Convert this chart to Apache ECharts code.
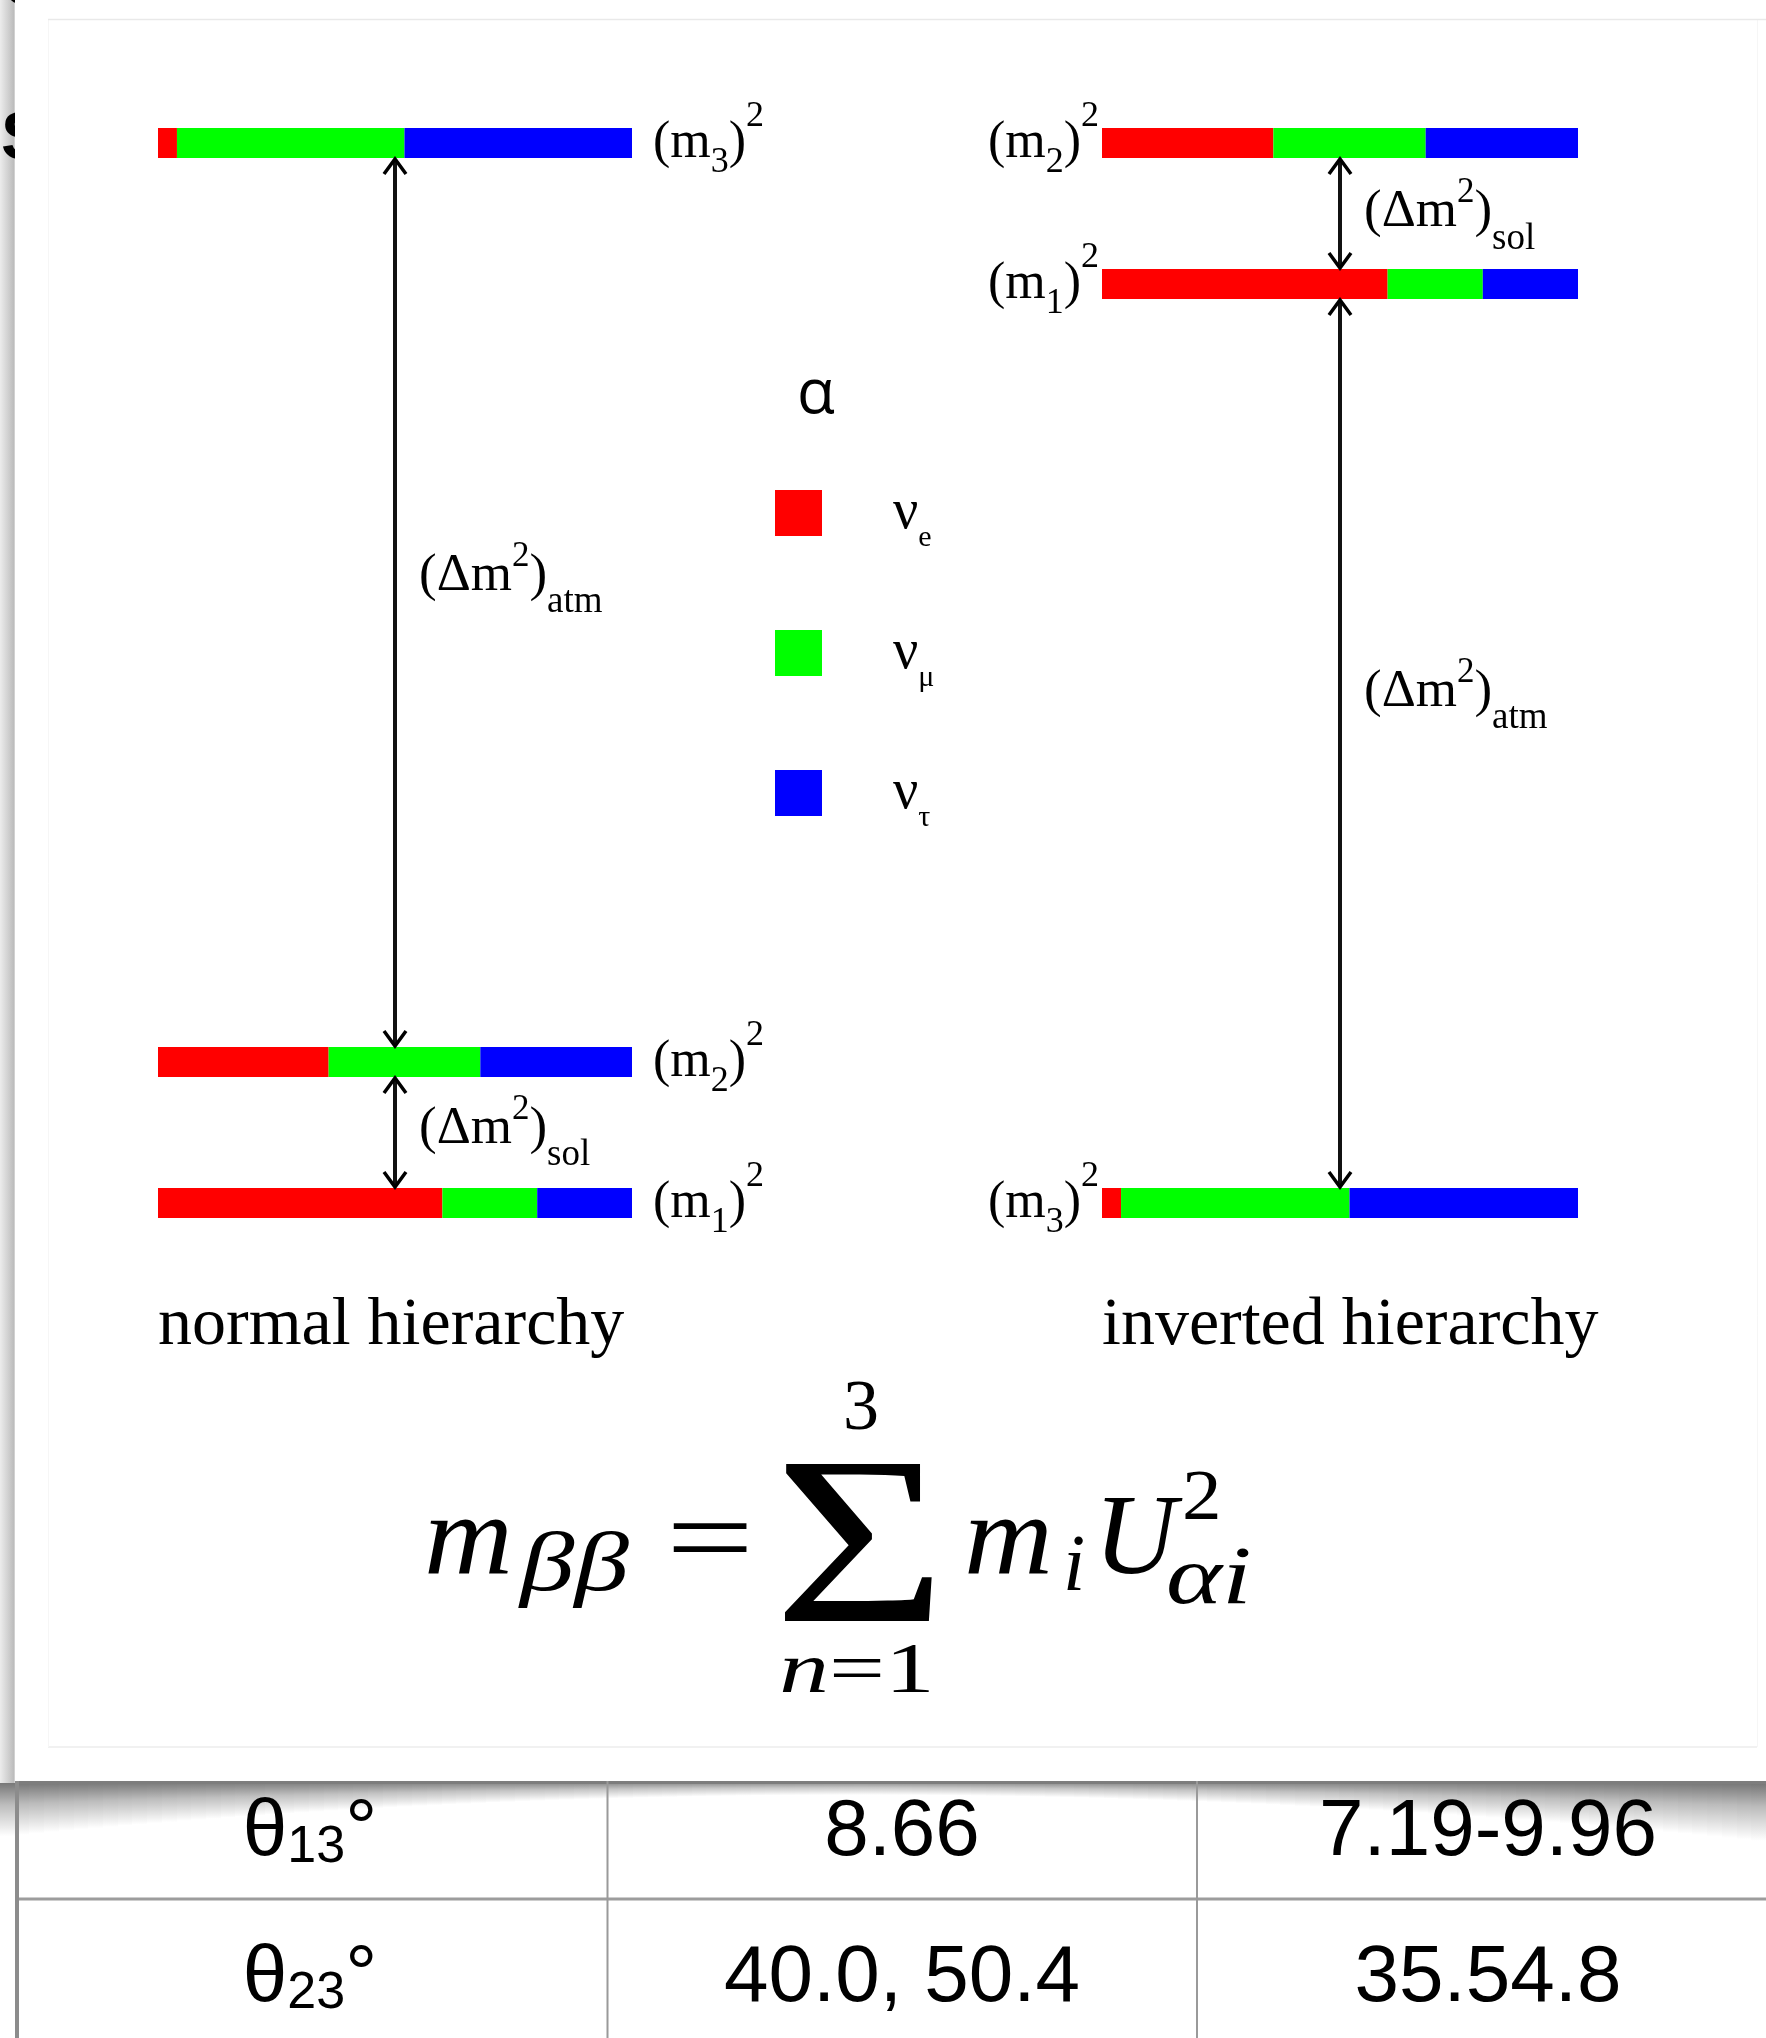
<!DOCTYPE html>
<html><head><meta charset="utf-8">
<script src="https://cdn.jsdelivr.net/npm/echarts@6/dist/echarts.min.js"></script>
<style>html,body{margin:0;padding:0;background:#fff}#c{width:1766px;height:2038px}</style>
</head><body><div id="c"></div><script>
// ---------------- data ----------------
const flavours = ['νe', 'νμ', 'ντ'];
const flavourColors = ['#ff0000', '#00ff00', '#0000ff'];
const massStates = ['1', '2', '3'];
// mass-squared levels (arbitrary units, solar splitting = 1)
const levelsNormal = [0, 1, 7.52];
const levelsInverted = [6.52, 7.52, 0];
// flavour content of each mass state (m1, m2, m3)
const fracE = [0.60, 0.36, 0.04];
const fracMu = [0.20, 0.32, 0.48];
const fracTau = [0.20, 0.32, 0.48];
// splittings: [upper state, lower state, kind index]
const splitKinds = ['sol', 'atm'];
const splitNormal = [[3, 2, 1], [2, 1, 0]];
const splitInverted = [[2, 1, 0], [1, 3, 1]];
const panelTitles = ['normal hierarchy', 'inverted hierarchy'];
// table fragment
const tableRowSub = ['13', '23'];
const tableBestFit = ['8.66', '40.0, 50.4'];
const tableRange = ['7.19-9.96', '35.54.8'];

// ---------------- layout ----------------
const W = 1766, H = 2038;
const BAR_H = 30;
const LABEL_FRAC = [{ sol: 0.47, atm: 0.47 }, { sol: 0.49, atm: 0.442 }];
const SERIF = 'Liberation Serif';
const SANS = 'Liberation Sans';
const fracs = [fracE, fracMu, fracTau];

const chart = echarts.init(document.getElementById('c'), null, { renderer: 'canvas', width: W, height: H });

function barData(levels, f) {
  return massStates.map((s, i) => {
    let start = 0;
    for (let k = 0; k < f; k++) start += fracs[k][i];
    return [start, start + fracs[f][i], levels[i]];
  });
}
function barRender(params, api) {
  const y = api.value(2);
  const a = api.coord([api.value(0), y]);
  const b = api.coord([api.value(1), y]);
  return { type: 'rect', shape: { x: a[0], y: a[1] - BAR_H / 2, width: b[0] - a[0], height: BAR_H },
    style: { fill: api.visual('color') } };
}
function tok(size, extra) {
  return Object.assign({ fontFamily: SERIF, fontSize: size, lineHeight: 60, fill: '#000', color: '#000' }, extra || {});
}
const levelRich = {
  a: tok(52),
  s: tok(36, { padding: [39, 0, 0, 0] }),
  p: tok(36, { padding: [0, 0, 53, 0] })
};
const deltaRich = {
  a: tok(53),
  s: tok(37, { padding: [53, 0, 0, 0] }),
  p: tok(35, { padding: [0, 0, 39, 0] })
};
function levelLabelRender(side) {
  return function (params, api) {
    const p = api.coord([api.value(0), api.value(1)]);
    const k = massStates[api.value(2)];
    const right = side === 'right';
    return { type: 'text', x: right ? p[0] + 21 : p[0] - 3, y: p[1],
      style: { text: '{a|(m}{s|' + k + '}{a|)}{p|2}', rich: levelRich,
        align: right ? 'left' : 'right', textAlign: right ? 'left' : 'right',
        verticalAlign: 'middle', textVerticalAlign: 'middle', fill: '#000' } };
  };
}
function arrowRender(panel) {
  return function (params, api) {
    const x = api.value(0);
    const top = api.coord([x, api.value(1)]);
    const bot = api.coord([x, api.value(2)]);
    const cx = top[0], y1 = top[1] + BAR_H / 2, y2 = bot[1] - BAR_H / 2;
    const kind = splitKinds[api.value(3)];
    const ly = y1 + LABEL_FRAC[panel][kind] * (y2 - y1);
    const st = { stroke: '#000', lineWidth: 3.5, fill: 'none' };
    return { type: 'group', children: [
      { type: 'line', shape: { x1: cx, y1: y1 + 2, x2: cx, y2: y2 - 2 }, style: { stroke: '#111', lineWidth: 4 } },
      { type: 'polyline', shape: { points: [[cx - 11, y1 + 16], [cx, y1 + 1], [cx + 11, y1 + 16]] }, style: st },
      { type: 'polyline', shape: { points: [[cx - 11, y2 - 16], [cx, y2 - 1], [cx + 11, y2 - 16]] }, style: st },
      { type: 'text', x: cx + 24, y: ly, style: { text: '{a|(Δm}{p|2}{a|)}{s|' + kind + '}', rich: deltaRich,
        align: 'left', textAlign: 'left', verticalAlign: 'middle', textVerticalAlign: 'middle', fill: '#000' } }
    ] };
  };
}

const panels = [
  { levels: levelsNormal, splits: splitNormal, labelSide: 'right' },
  { levels: levelsInverted, splits: splitInverted, labelSide: 'left' }
];
const series = [];
panels.forEach((pn, p) => {
  flavours.forEach((name, f) => {
    series.push({ type: 'custom', name: name, xAxisIndex: p, yAxisIndex: p, itemStyle: { color: flavourColors[f] },
      renderItem: barRender, data: barData(pn.levels, f), silent: true, z: 2 });
  });
  series.push({ type: 'custom', name: 'levels' + p, xAxisIndex: p, yAxisIndex: p, renderItem: levelLabelRender(pn.labelSide),
    data: massStates.map((s, i) => [pn.labelSide === 'right' ? 1 : 0, pn.levels[i], i]), silent: true, z: 3 });
  series.push({ type: 'custom', name: 'splits' + p, xAxisIndex: p, yAxisIndex: p, renderItem: arrowRender(p),
    data: pn.splits.map(s => [0.5, pn.levels[s[0] - 1], pn.levels[s[1] - 1], s[2]]), silent: true, z: 4 });
});

// ---------------- decorations, formula, table (graphic) ----------------
function txt(text, x, y, size, opts) {
  opts = opts || {};
  const el = { type: 'text', x: x, y: y, silent: true, z: opts.z || 10,
    style: Object.assign({ text: text, fontFamily: opts.family || SERIF, fontSize: size, fontStyle: opts.italic ? 'italic' : 'normal',
      fontWeight: opts.bold ? 'bold' : 'normal',
      fill: '#000', align: opts.align || 'left', textAlign: opts.align || 'left', verticalAlign: 'middle', textVerticalAlign: 'middle' }, opts.style || {}) };
  if (opts.sx) el.scaleX = opts.sx;
  return el;
}
const graphics = [];
// page frame
graphics.push({ type: 'rect', shape: { x: 0, y: 0, width: 15, height: 1783 }, silent: true, z: 1,
  style: { fill: new echarts.graphic.LinearGradient(0, 0, 1, 0, [{ offset: 0, color: '#ececec' }, { offset: 0.6, color: '#cdcdcd' }, { offset: 0.92, color: '#bcbcbc' }, { offset: 1, color: '#e0e0e0' }]) } });
graphics.push(txt('S', 1, 140, 68, { family: SANS, bold: true, z: 2 }));
graphics.push(txt('C', 1, -14, 68, { family: SANS, bold: true, z: 2 }));
graphics.push({ type: 'rect', shape: { x: 15, y: 0, width: 30, height: 200 }, silent: true, z: 3, style: { fill: '#fff' } });
graphics.push({ type: 'line', shape: { x1: 48, y1: 19.5, x2: W, y2: 19.5 }, silent: true, z: 4, style: { stroke: '#e9e9e9', lineWidth: 1.5 } });
graphics.push({ type: 'line', shape: { x1: 48, y1: 1747, x2: 1757, y2: 1747 }, silent: true, style: { stroke: '#ececec', lineWidth: 1.5 } });
graphics.push({ type: 'line', shape: { x1: 48.5, y1: 20, x2: 48.5, y2: 1747 }, silent: true, style: { stroke: '#f6f6f6', lineWidth: 1 } });
graphics.push({ type: 'line', shape: { x1: 1757.5, y1: 20, x2: 1757.5, y2: 1747 }, silent: true, style: { stroke: '#f6f6f6', lineWidth: 1 } });
// panel titles
graphics.push(txt(panelTitles[0], 158, 1326, 68));
graphics.push(txt(panelTitles[1], 1102, 1326, 68));
// legend title
graphics.push(txt('α', 816, 395, 62, { family: 'Open Sans', align: 'center' }));
// formula
const MY = 1543;
graphics.push(txt('m', 424, MY, 114, { italic: true, sx: 1.08 }));
graphics.push(txt('ββ', 520, MY + 25, 84, { italic: true, sx: 1.3 }));
graphics.push(txt('=', 666, MY + 3, 114, { sx: 1.37 }));
graphics.push(txt('Σ', 860, 1558, 240, { align: 'center', sx: 1.24 }));
graphics.push(txt('3', 861, 1410, 72, { align: 'center' }));
graphics.push({ type: 'text', x: 857, y: 1673, scaleX: 1.38, silent: true, z: 10, style: { text: '{i|n}{r|=1}', align: 'center', textAlign: 'center', verticalAlign: 'middle', textVerticalAlign: 'middle',
  rich: { i: { fontFamily: SERIF, fontStyle: 'italic', fontSize: 72, fill: '#000', color: '#000' }, r: { fontFamily: SERIF, fontSize: 72, fill: '#000', color: '#000' } } } });
graphics.push(txt('m', 964, MY, 114, { italic: true, sx: 1.08 }));
graphics.push(txt('i', 1063, MY + 26, 80, { italic: true }));
graphics.push(txt('U', 1094, MY, 114, { italic: true }));
graphics.push(txt('2', 1182, 1500, 72, { sx: 1.1 }));
graphics.push(txt('αi', 1166, MY + 38, 82, { italic: true, sx: 1.3 }));
// table shadow (soft, curved)
const N = 120;
for (let k = 0; k < N; k++) {
  const x0 = Math.round(k * W / N), x1 = Math.round((k + 1) * W / N);
  const u = ((x0 + x1) / 2 - 860) / 900;
  const depth = 12 + 46 * u * u;
  const alpha = 0.42 + 0.12 * Math.min(1, Math.abs(u));
  graphics.push({ type: 'rect', shape: { x: x0, y: 1783, width: x1 - x0, height: depth }, silent: true, z: 5,
    style: { fill: new echarts.graphic.LinearGradient(0, 0, 0, 1, [{ offset: 0, color: 'rgba(0,0,0,' + alpha.toFixed(3) + ')' }, { offset: 0.4, color: 'rgba(0,0,0,' + (alpha * 0.5).toFixed(3) + ')' }, { offset: 1, color: 'rgba(0,0,0,0)' }]) } });
}
// table lines
graphics.push({ type: 'rect', shape: { x: 15, y: 1781, width: W - 15, height: 3 }, silent: true, z: 6, style: { fill: '#7d7d7d' } });
graphics.push({ type: 'rect', shape: { x: 15, y: 1897.5, width: W - 15, height: 3 }, silent: true, z: 6, style: { fill: '#9c9c9c' } });
graphics.push({ type: 'rect', shape: { x: 15, y: 1781, width: 4, height: H - 1781 }, silent: true, z: 6, style: { fill: '#8c8c8c' } });
graphics.push({ type: 'rect', shape: { x: 606.5, y: 1781, width: 2, height: H - 1781 }, silent: true, z: 6, style: { fill: '#9a9a9a' } });
graphics.push({ type: 'rect', shape: { x: 1196, y: 1781, width: 2, height: H - 1781 }, silent: true, z: 6, style: { fill: '#9a9a9a' } });
// table texts
const rowY = [1833, 1979];
const colX = [310, 902, 1488];
const thetaRich = {
  t: { fontFamily: SANS, fontSize: 80, lineHeight: 90, fill: '#000', color: '#000' },
  s: { fontFamily: SANS, fontSize: 52, lineHeight: 90, padding: [30, 0, 0, 0], fill: '#000', color: '#000' }
};
tableRowSub.forEach((sub, r) => {
  graphics.push({ type: 'text', x: colX[0], y: rowY[r], silent: true, z: 10, style: { text: '{t|θ}{s|' + sub + '}{t|°}', rich: thetaRich,
    align: 'center', textAlign: 'center', verticalAlign: 'middle', textVerticalAlign: 'middle' } });
  graphics.push(txt(tableBestFit[r], colX[1], rowY[r], 80, { family: SANS, align: 'center' }));
  graphics.push(txt(tableRange[r], colX[2], rowY[r], 80, { family: SANS, align: 'center' }));
});

const option = {
  backgroundColor: '#ffffff',
  animation: false,
  grid: [
    { left: 158, width: 474, top: 143, height: 1060 },
    { left: 1102, width: 476, top: 143, height: 1060 }
  ],
  xAxis: [0, 1].map(i => ({ type: 'value', gridIndex: i, min: 0, max: 1, show: false })),
  yAxis: [0, 1].map(i => ({ type: 'value', gridIndex: i, min: 0, max: Math.max(...panels[i].levels), show: false })),
  legend: {
    data: flavours, orient: 'vertical', left: 775, top: 473, itemWidth: 47, itemHeight: 46, itemGap: 60,
    icon: 'rect', selectedMode: false, padding: 0,
    formatter: name => '{sp| }{n|ν}{s|' + name.slice(1) + '}',
    textStyle: { rich: {
      sp: { width: 66, lineHeight: 46 },
      n: { fontFamily: SERIF, fontSize: 56, lineHeight: 46, color: '#000' },
      s: { fontFamily: SERIF, fontSize: 30, lineHeight: 46, padding: [50, 0, 0, 0], color: '#000' }
    } }
  },
  series: series,
  graphic: { elements: graphics }
};
chart.setOption(option);
</script></body></html>
